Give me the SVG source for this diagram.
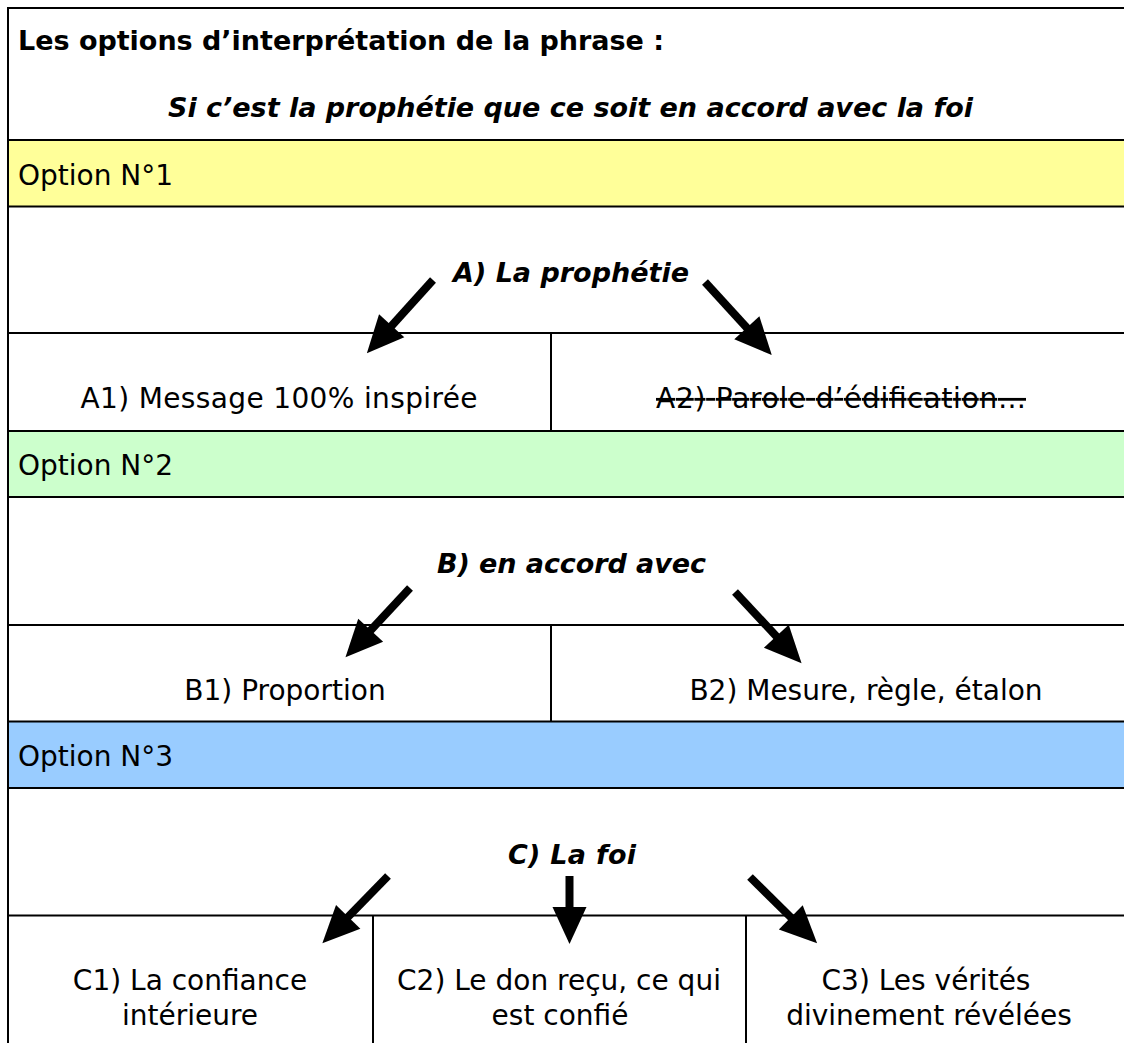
<svg xmlns="http://www.w3.org/2000/svg" width="1124" height="1043" viewBox="0 0 1124 1043">
<style>
text{font-family:"DejaVu Sans","Liberation Sans",sans-serif;fill:#000}
.t{font-size:27px;font-weight:bold}
.bi{font-size:27px;font-weight:bold;font-style:italic}
.r{font-size:28px}
.m{text-anchor:middle}
.ln{stroke:#000;stroke-width:2;fill:none}
.ar{stroke:#000;stroke-width:8;fill:none}
</style>
<defs>
<marker id="ah" markerUnits="userSpaceOnUse" markerWidth="38" markerHeight="36" refX="1" refY="17" orient="auto" overflow="visible">
<path d="M0,0 L37,17 L0,34 z" fill="#000"/>
</marker>
</defs>
<rect width="1124" height="1043" fill="#fff"/>
<g id="bands">
<rect x="8" y="141" width="1116" height="65" fill="#FFFF99"/>
<rect x="8" y="431" width="1116" height="66" fill="#CCFFCC"/>
<rect x="8" y="722" width="1116" height="66" fill="#99CCFF"/>
</g>
<g id="grid">
<line class="ln" x1="8" y1="7" x2="8" y2="1043"/>
<line class="ln" x1="7" y1="8" x2="1124" y2="8"/>
<line class="ln" x1="7" y1="140" x2="1124" y2="140"/>
<line class="ln" x1="7" y1="206.5" x2="1124" y2="206.5"/>
<line class="ln" x1="7" y1="333" x2="1124" y2="333"/>
<line class="ln" x1="7" y1="431" x2="1124" y2="431"/>
<line class="ln" x1="7" y1="497" x2="1124" y2="497"/>
<line class="ln" x1="7" y1="625" x2="1124" y2="625"/>
<line class="ln" x1="7" y1="721.5" x2="1124" y2="721.5"/>
<line class="ln" x1="7" y1="788" x2="1124" y2="788"/>
<line class="ln" x1="7" y1="915.5" x2="1124" y2="915.5"/>
<line class="ln" x1="551" y1="333" x2="551" y2="431"/>
<line class="ln" x1="551" y1="625" x2="551" y2="722"/>
<line class="ln" x1="373" y1="915" x2="373" y2="1043"/>
<line class="ln" x1="746" y1="915" x2="746" y2="1043"/>
</g>
<g id="header">
<text class="t" x="18" y="50" textLength="646">Les options d’interprétation de la phrase :</text>
<text class="bi m" x="570.5" y="117" textLength="805">Si c’est la prophétie que ce soit en accord avec la foi</text>
</g>
<g id="opt1"><text class="r" x="18" y="185" textLength="155">Option N°1</text></g>
<g id="nodeA"><text class="bi m" x="571" y="282" textLength="236">A) La prophétie</text></g>
<g id="nodeA1"><text class="r m" x="279" y="408" textLength="397">A1) Message 100% inspirée</text></g>
<g id="nodeA2"><text class="r m" x="841" y="408" textLength="370" text-decoration="line-through">A2) Parole d’édification…</text></g>
<g id="opt2"><text class="r" x="18" y="475" textLength="155">Option N°2</text></g>
<g id="nodeB"><text class="bi m" x="571.5" y="573" textLength="269">B) en accord avec</text></g>
<g id="nodeB1"><text class="r m" x="285" y="700">B1) Proportion</text></g>
<g id="nodeB2"><text class="r m" x="866" y="700">B2) Mesure, règle, étalon</text></g>
<g id="opt3"><text class="r" x="18" y="766" textLength="155">Option N°3</text></g>
<g id="nodeC"><text class="bi m" x="572" y="864" textLength="128">C) La foi</text></g>
<g id="nodeC1"><text class="r m" x="190" y="990">C1) La confiance</text><text class="r m" x="190" y="1025">intérieure</text></g>
<g id="nodeC2"><text class="r m" x="559" y="990">C2) Le don reçu, ce qui</text><text class="r m" x="560" y="1025">est confié</text></g>
<g id="nodeC3"><text class="r m" x="926" y="990">C3) Les vérités</text><text class="r m" x="929" y="1025">divinement révélées</text></g>
<g id="connectors">
<line class="ar" x1="433" y1="280" x2="391" y2="326.5" marker-end="url(#ah)"/>
<line class="ar" x1="705" y1="282" x2="747.5" y2="328.5" marker-end="url(#ah)"/>
<line class="ar" x1="410" y1="588" x2="370" y2="631" marker-end="url(#ah)"/>
<line class="ar" x1="735" y1="592" x2="777" y2="637" marker-end="url(#ah)"/>
<line class="ar" x1="388" y1="876" x2="347.5" y2="917.5" marker-end="url(#ah)"/>
<line class="ar" x1="569.5" y1="876" x2="569.5" y2="908" marker-end="url(#ah)"/>
<line class="ar" x1="750" y1="877" x2="791.5" y2="918" marker-end="url(#ah)"/>
</g>
</svg>
